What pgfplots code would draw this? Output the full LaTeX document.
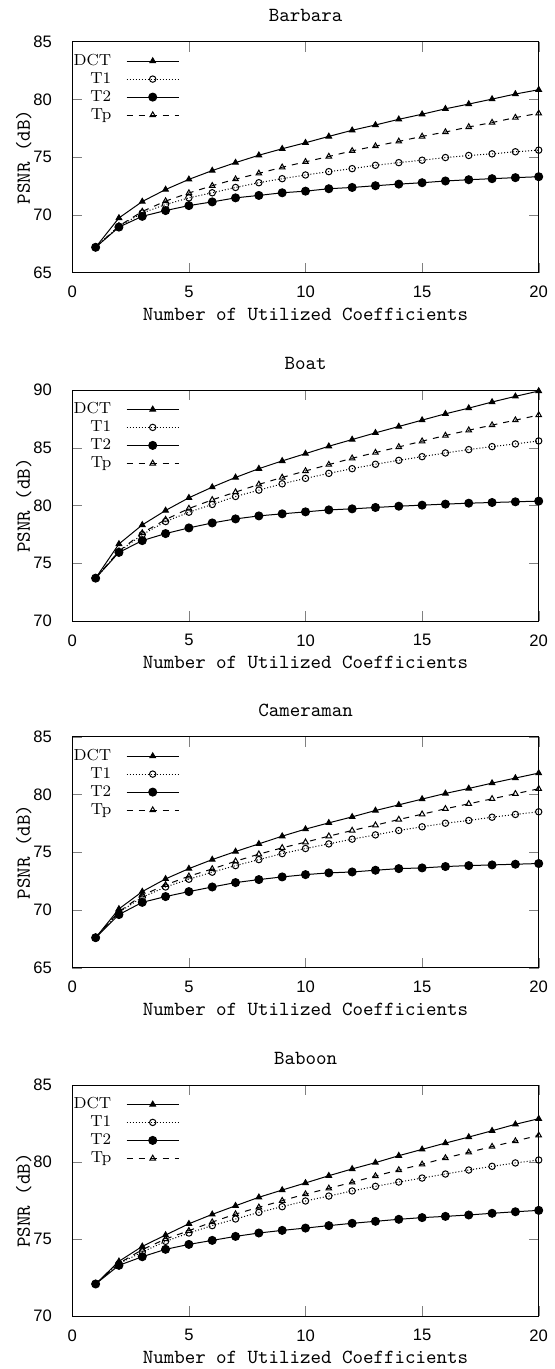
\documentclass[border=0pt]{standalone}
\usepackage{fontspec}
\usepackage{pgfplots}
\usepackage{pgfplotstable}
\pgfplotsset{compat=1.18}
\newfontfamily\ticksf{Liberation Sans}

% PSNR per number of coefficients: n, DCT, T1, T2, Tp
\pgfplotstableread{
n dct t1 t2 tp
1 67.20 67.20 67.20 67.20
2 69.74 69.00 68.95 69.05
3 71.16 70.17 69.88 70.30
4 72.20 70.90 70.38 71.20
5 73.08 71.48 70.81 71.90
6 73.84 71.92 71.13 72.53
7 74.53 72.38 71.48 73.10
8 75.17 72.79 71.69 73.60
9 75.73 73.14 71.92 74.13
10 76.25 73.46 72.06 74.60
11 76.80 73.75 72.27 75.06
12 77.33 74.01 72.38 75.55
13 77.79 74.30 72.53 75.96
14 78.28 74.53 72.67 76.37
15 78.72 74.74 72.79 76.80
16 79.19 74.97 72.94 77.18
17 79.60 75.15 73.05 77.62
18 80.03 75.29 73.14 78.00
19 80.47 75.47 73.23 78.43
20 80.84 75.61 73.31 78.80
}\barbara

\pgfplotstableread{
n dct t1 t2 tp
1 73.71 73.71 73.71 73.71
2 76.67 76.00 75.94 76.05
3 78.32 77.48 76.96 77.62
4 79.57 78.61 77.57 78.78
5 80.67 79.42 78.06 79.74
6 81.59 80.09 78.49 80.49
7 82.43 80.78 78.84 81.16
8 83.19 81.33 79.10 81.83
9 83.86 81.88 79.28 82.43
10 84.49 82.35 79.45 82.99
11 85.13 82.78 79.62 83.54
12 85.71 83.19 79.71 84.09
13 86.29 83.57 79.83 84.58
14 86.84 83.91 79.94 85.07
15 87.39 84.23 80.03 85.57
16 87.94 84.55 80.12 86.06
17 88.43 84.84 80.20 86.52
18 88.96 85.10 80.26 86.96
19 89.45 85.33 80.32 87.39
20 89.91 85.59 80.38 87.83
}\boat

\pgfplotstableread{
n dct t1 t2 tp
1 67.60 67.60 67.60 67.60
2 70.09 69.80 69.60 69.85
3 71.59 71.10 70.66 71.27
4 72.69 71.99 71.16 72.17
5 73.58 72.66 71.59 72.92
6 74.36 73.27 71.99 73.55
7 75.06 73.84 72.37 74.22
8 75.72 74.36 72.63 74.83
9 76.39 74.88 72.86 75.38
10 77.00 75.32 73.06 75.87
11 77.54 75.72 73.21 76.39
12 78.06 76.13 73.29 76.88
13 78.61 76.50 73.44 77.34
14 79.10 76.88 73.58 77.83
15 79.60 77.20 73.64 78.29
16 80.09 77.51 73.76 78.76
17 80.52 77.75 73.84 79.19
18 80.98 78.03 73.90 79.62
19 81.42 78.27 73.96 80.06
20 81.85 78.50 74.02 80.49
}\cameraman

\pgfplotstableread{
n dct t1 t2 tp
1 72.08 72.08 72.08 72.08
2 73.55 73.40 73.29 73.42
3 74.52 74.16 73.85 74.31
4 75.26 74.85 74.33 75.00
5 75.99 75.39 74.65 75.54
6 76.60 75.87 74.91 76.10
7 77.16 76.30 75.17 76.62
8 77.71 76.73 75.39 77.06
9 78.18 77.10 75.56 77.49
10 78.64 77.47 75.71 77.92
11 79.11 77.79 75.87 78.29
12 79.55 78.12 76.02 78.68
13 79.96 78.42 76.15 79.09
14 80.41 78.70 76.28 79.48
15 80.82 78.96 76.39 79.85
16 81.23 79.22 76.47 80.26
17 81.62 79.48 76.56 80.63
18 82.03 79.72 76.67 81.00
19 82.45 79.94 76.77 81.36
20 82.81 80.13 76.86 81.73
}\baboon

\pgfplotsset{
  psnr/.style={
    scale only axis, width=233.2pt, height=115.5pt,
    anchor=north west,
    xmin=0, xmax=20, xtick={0,5,...,20},
    ytick distance=5,
    tick pos=both, tick align=inside,
    major tick length=5pt,
    /pgf/number format/assume math mode=true,
    tick label style={font=\ticksf\fontsize{8.3}{10}\selectfont},
    xticklabel style={yshift=-3.2pt},
    yticklabel style={xshift=-6.7pt},
    label style={font=\ttfamily\fontsize{10}{12}\selectfont},
    xlabel shift=-2pt,
    ylabel shift=-6pt,
    title style={font=\ttfamily\fontsize{10}{12}\selectfont, yshift=0.5pt},
    xlabel={Number of Utilized Coefficients},
    ylabel={PSNR (dB)},
    every axis plot/.append style={line width=0.5pt, black},
    legend style={draw=none, fill=none, inner sep=0pt,
      at={(0,1)}, anchor=north west, xshift=0.5pt, yshift=-5pt,
      column sep=7.5pt,
      font=\fontsize{8}{9}\selectfont,
      nodes={inner xsep=0pt, inner ysep=0.75pt, text height=6pt, text depth=1.5pt}},
    legend cell align=right,
    legend plot pos=right,
    legend image code/.code={
      \draw[mark repeat=2,mark phase=2] plot coordinates {(0pt,0pt)(13pt,0pt)(26pt,0pt)};},
  },
  sdct/.style={solid, mark=triangle*, mark size=1.6pt},
  st1/.style={densely dotted, mark=o, mark size=1.6pt, mark options={solid}},
  st2/.style={solid, mark=*, mark size=2pt},
  stp/.style={dashed, mark=triangle, mark size=1.6pt, mark options={solid, fill=white}},
}

\begin{document}
\begin{tikzpicture}
\path[use as bounding box] (0,0) rectangle (277pt,-684.5pt);

\begin{axis}[psnr, at={(36.15pt,-20.85pt)}, ymin=65, ymax=85, title={Barbara}]
\addplot[sdct] table[x=n,y=dct] {\barbara};
\addplot[st1] table[x=n,y=t1] {\barbara};
\addplot[st2] table[x=n,y=t2] {\barbara};
\addplot[stp] table[x=n,y=tp] {\barbara};
\legend{DCT,T1,T2,Tp}
\end{axis}

\begin{axis}[psnr, at={(36.15pt,-195pt)}, ymin=70, ymax=90, title={Boat}]
\addplot[sdct] table[x=n,y=dct] {\boat};
\addplot[st1] table[x=n,y=t1] {\boat};
\addplot[st2] table[x=n,y=t2] {\boat};
\addplot[stp] table[x=n,y=tp] {\boat};
\legend{DCT,T1,T2,Tp}
\end{axis}

\begin{axis}[psnr, at={(36.15pt,-368.35pt)}, ymin=65, ymax=85, title={Cameraman}]
\addplot[sdct] table[x=n,y=dct] {\cameraman};
\addplot[st1] table[x=n,y=t1] {\cameraman};
\addplot[st2] table[x=n,y=t2] {\cameraman};
\addplot[stp] table[x=n,y=tp] {\cameraman};
\legend{DCT,T1,T2,Tp}
\end{axis}

\begin{axis}[psnr, at={(36.15pt,-542.5pt)}, ymin=70, ymax=85, title={Baboon}]
\addplot[sdct] table[x=n,y=dct] {\baboon};
\addplot[st1] table[x=n,y=t1] {\baboon};
\addplot[st2] table[x=n,y=t2] {\baboon};
\addplot[stp] table[x=n,y=tp] {\baboon};
\legend{DCT,T1,T2,Tp}
\end{axis}
\end{tikzpicture}
\end{document}
